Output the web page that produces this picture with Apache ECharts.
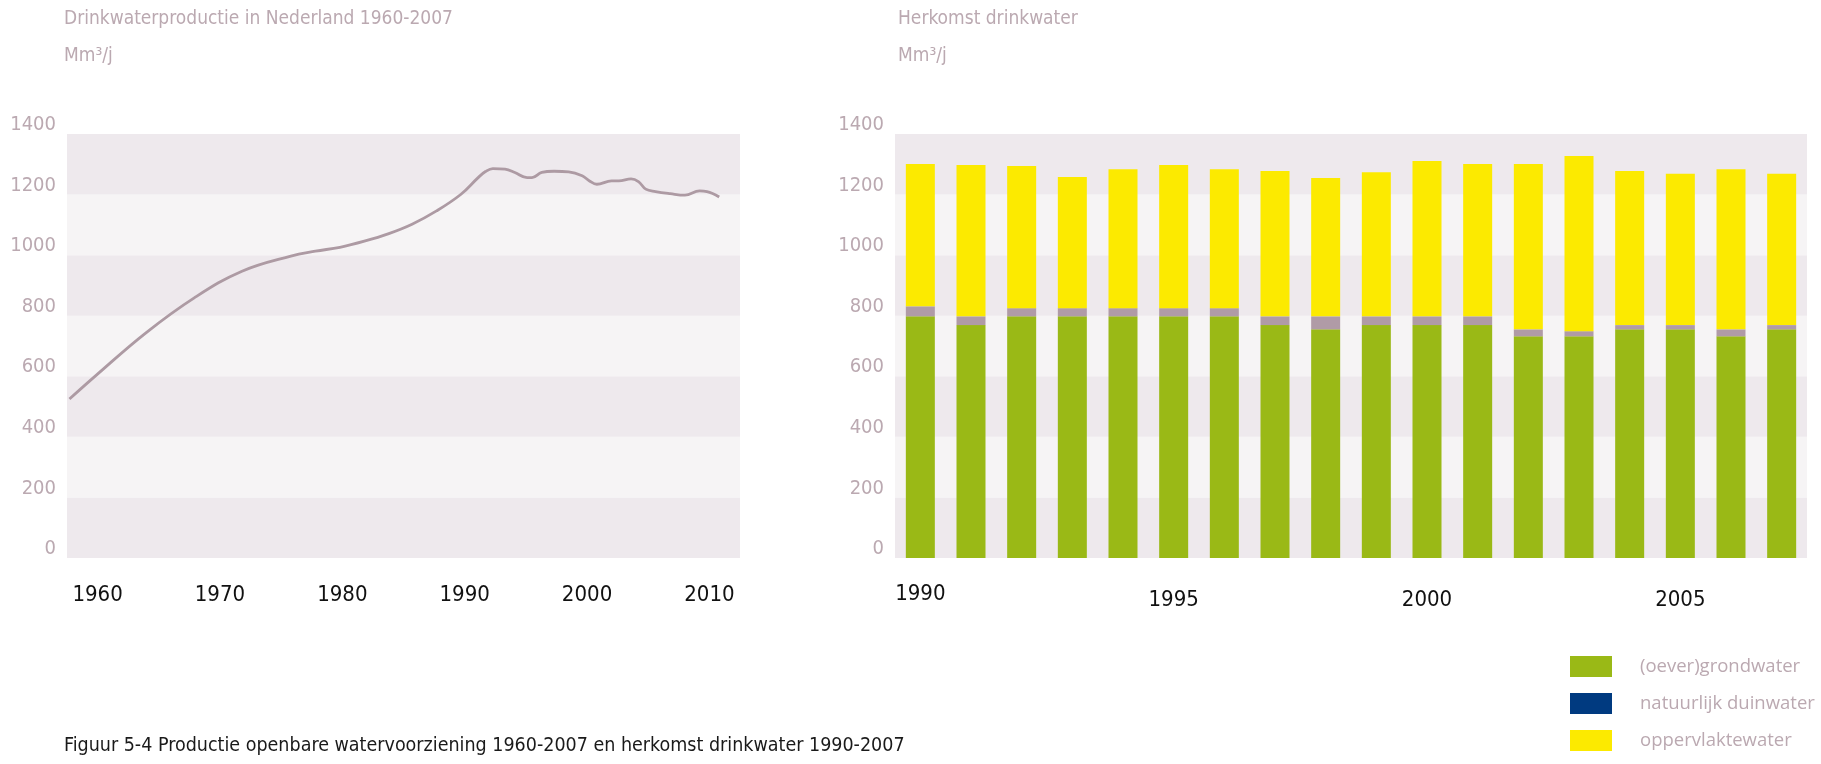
<!DOCTYPE html>
<html>
<head>
<meta charset="utf-8">
<script src="https://cdn.jsdelivr.net/npm/echarts@6/dist/echarts.min.js"></script>
<style>
html,body{margin:0;padding:0;background:#fff;}
#chart{width:1821px;height:764px;}
</style>
</head>
<body>
<div id="chart"></div>
<script>
// Left chart: drinking water production (year, Mm3/j)
const lineYears = [1957.7, 1959.9, 1963.9, 1967.9, 1971.8, 1975.8, 1977.8, 1979.8, 1981.8, 1983.8, 1985.7, 1987.7, 1989.7, 1991.1, 1991.7, 1992.3, 1993.3, 1994.1, 1995.1, 1995.5, 1996.3, 1997.3, 1998.5, 1999.6, 2000.2, 2000.8, 2002.0, 2002.6, 2003.6, 2004.2, 2004.8, 2005.6, 2006.8, 2008.0, 2009.2, 2009.8, 2010.8];
const lineValues = [525, 604, 742, 859, 947, 997, 1013, 1026, 1046, 1071, 1102, 1146, 1201, 1256, 1276, 1286, 1284, 1273, 1256, 1256, 1273, 1277, 1275, 1262, 1245, 1234, 1245, 1245, 1252, 1243, 1218, 1210, 1203, 1198, 1212, 1210, 1192];
const leftXLabels = [1960, 1970, 1980, 1990, 2000, 2010];

// Right chart: origin of drinking water
const barYears = ['1990','1991','1992','1993','1994','1995','1996','1997','1998','1999','2000','2001','2002','2003','2004','2005','2006','2007'];
const grondwater = [798, 769, 798, 798, 798, 798, 798, 769, 755, 769, 769, 769, 732, 732, 755, 755, 732, 755];
const duinwater = [33, 29, 27, 27, 27, 27, 27, 29, 43, 29, 29, 29, 23, 17, 14, 14, 23, 14];
const oppervlaktewater = [470, 500, 469, 433, 459, 473, 459, 480, 457, 476, 513, 503, 546, 578, 509, 500, 529, 500];
const yTicks = [0, 200, 400, 600, 800, 1000, 1200, 1400];

const seriesNames = ['(oever)grondwater', 'natuurlijk duinwater', 'oppervlaktewater'];

const FONT = '"Liberation Sans Narrow", "DejaVu Sans Condensed", "Liberation Sans", sans-serif';
const MAUVE_TXT = '#bba9b1';
const BAND_DARK = '#eee9ed';
const BAND_LIGHT = '#f6f4f5';

const chart = echarts.init(document.getElementById('chart'), null, {renderer: 'canvas'});

const yAxisCommon = {
  type: 'value', min: yTicks[0], max: yTicks[yTicks.length - 1], interval: 200,
  axisLine: {show: false}, axisTick: {show: false}, splitLine: {show: false},
  splitArea: {show: true, areaStyle: {color: [BAND_DARK, BAND_LIGHT]}},
  axisLabel: {color: MAUVE_TXT, fontFamily: FONT, fontSize: 20, margin: 11,
    verticalAlign: 'bottom', lineHeight: 18, formatter: v => String(v)}
};

const lineData = lineYears.map((y, i) => [y, lineValues[i]]);
const titleStyle = {color: MAUVE_TXT, fontFamily: FONT, fontSize: 19, fontWeight: 'normal'};

chart.setOption({
  animation: false,
  textStyle: {fontFamily: FONT},
  title: [
    {text: 'Drinkwaterproductie in Nederland 1960-2007', left: 64, top: 10, padding: 0, textStyle: titleStyle},
    {text: 'Mm³/j', left: 64, top: 47, padding: 0, textStyle: titleStyle},
    {text: 'Herkomst drinkwater', left: 898, top: 10, padding: 0, textStyle: titleStyle},
    {text: 'Mm³/j', left: 898, top: 47, padding: 0, textStyle: titleStyle},
    {text: 'Figuur 5-4 Productie openbare watervoorziening 1960-2007 en herkomst drinkwater 1990-2007', left: 64, top: 736, padding: 0,
      textStyle: {color: '#1a1a1a', fontFamily: FONT, fontSize: 19.5, fontWeight: 'normal'}}
  ],
  legend: {
    orient: 'vertical', left: 1570, top: 656, padding: 0, itemWidth: 42, itemHeight: 21, itemGap: 16,
    icon: 'rect', selectedMode: false,
    textStyle: {color: MAUVE_TXT, fontFamily: '"Open Sans", Lato, sans-serif', fontSize: 18.5, lineHeight: 21, padding: [0, 0, 0, 23]},
    data: [
      {name: seriesNames[0], itemStyle: {color: '#9ab916'}},
      {name: seriesNames[1], itemStyle: {color: '#003a80'}},
      {name: seriesNames[2], itemStyle: {color: '#fcea00'}}
    ]
  },
  grid: [
    {left: 67, right: 1081, top: 134, bottom: 206},
    {left: 895, right: 14, top: 134, bottom: 206}
  ],
  xAxis: [
    {gridIndex: 0, type: 'value', min: 1957.5, max: 2012.5, interval: 2.5,
      axisLine: {show: false}, axisTick: {show: false}, splitLine: {show: false},
      axisLabel: {color: '#111', fontFamily: FONT, fontSize: 22, margin: 26,
        formatter: v => leftXLabels.indexOf(Math.round(v * 100) / 100) >= 0 ? String(v) : ''}},
    {gridIndex: 1, type: 'category', data: barYears,
      axisLine: {show: false}, axisTick: {show: false}, splitLine: {show: false},
      axisLabel: {color: '#111', fontFamily: FONT, fontSize: 22, margin: 25, interval: 4,
        formatter: v => v === '1990' ? '{a|' + v + '}' : '{b|' + v + '}',
        rich: {a: {fontFamily: FONT, fontSize: 22, color: '#111', padding: [0, 0, 0, 0]},
               b: {fontFamily: FONT, fontSize: 22, color: '#111', padding: [6, 0, 0, 0]}}}}
  ],
  yAxis: [
    Object.assign({gridIndex: 0}, yAxisCommon),
    Object.assign({gridIndex: 1}, yAxisCommon)
  ],
  series: [
    {type: 'line', xAxisIndex: 0, yAxisIndex: 0, data: lineData, smooth: 0.4, showSymbol: false,
      lineStyle: {color: '#ad9aa3', width: 2.8}, itemStyle: {color: '#ad9aa3'}},
    {name: seriesNames[0], type: 'bar', xAxisIndex: 1, yAxisIndex: 1, stack: 'total', barWidth: 29,
      data: grondwater, itemStyle: {color: '#9ab916'}},
    {name: seriesNames[1], type: 'bar', xAxisIndex: 1, yAxisIndex: 1, stack: 'total', barWidth: 29,
      data: duinwater, itemStyle: {color: '#b09ba6'}},
    {name: seriesNames[2], type: 'bar', xAxisIndex: 1, yAxisIndex: 1, stack: 'total', barWidth: 29,
      data: oppervlaktewater, itemStyle: {color: '#fcea00'}}
  ]
});
</script>
</body>
</html>
